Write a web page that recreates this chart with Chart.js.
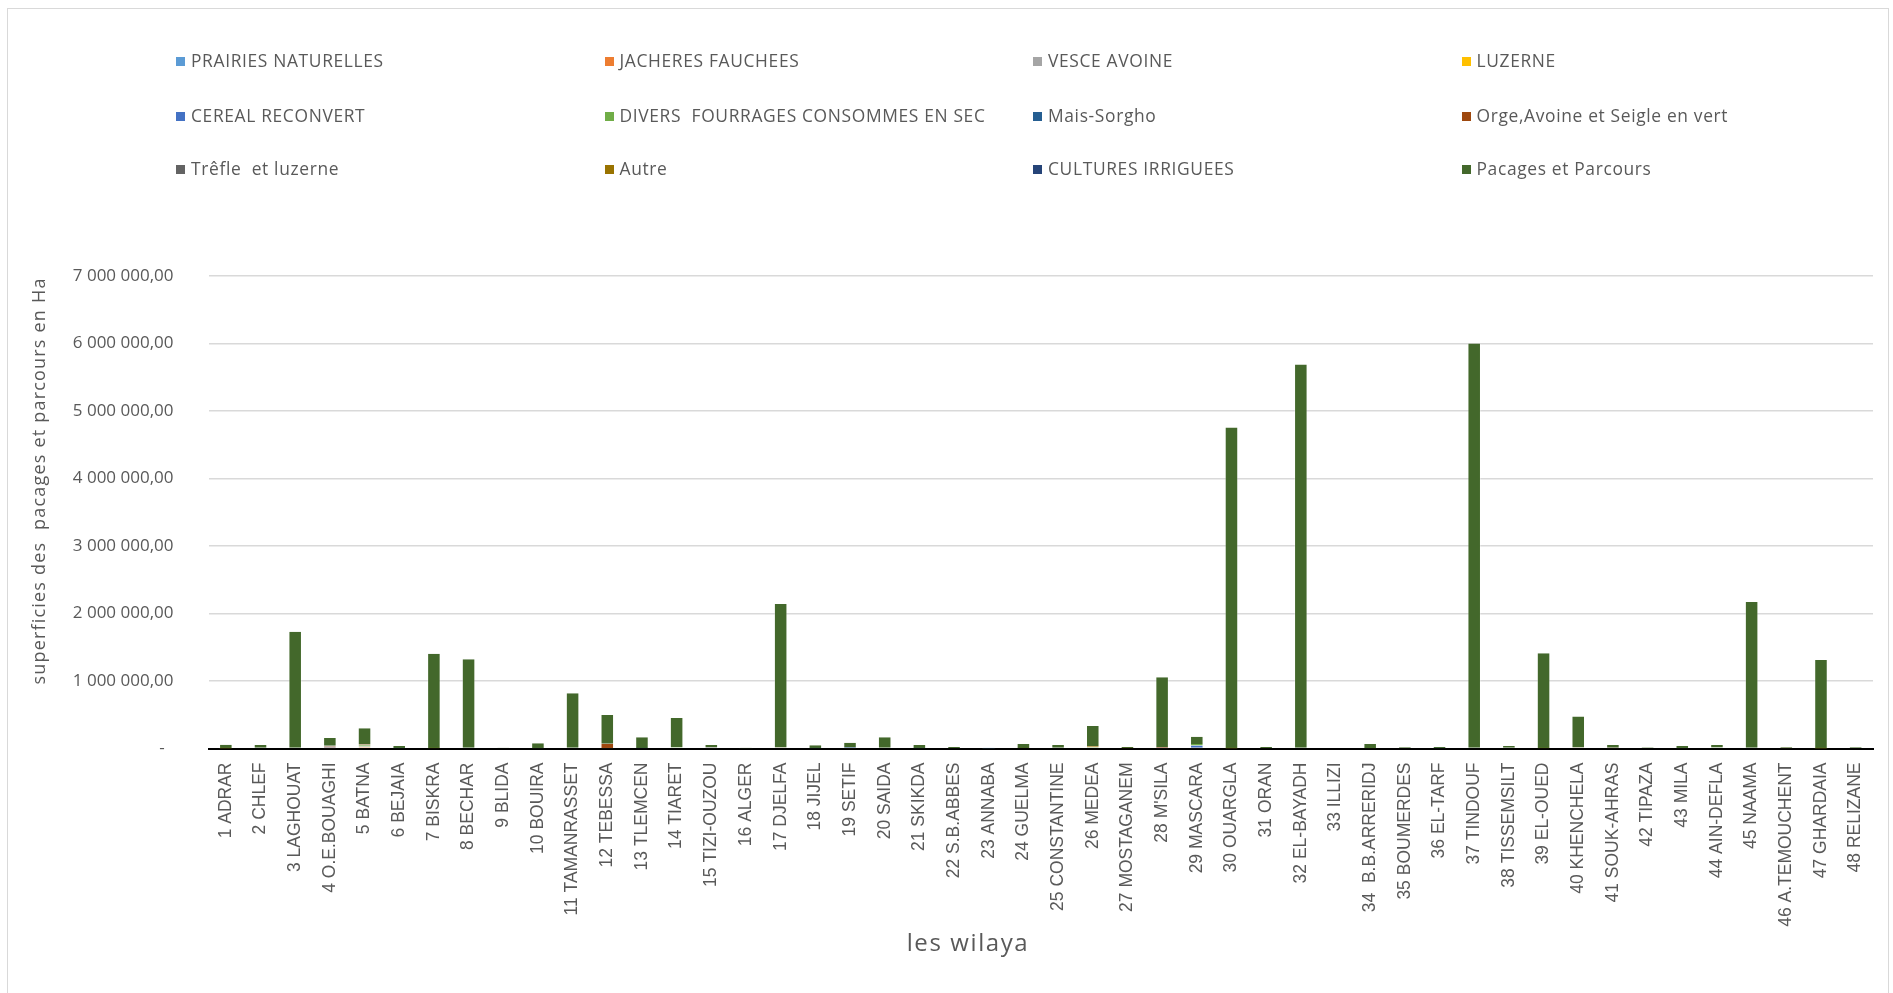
<!DOCTYPE html>
<html><head><meta charset="utf-8">
<script src="https://cdn.jsdelivr.net/npm/chart.js@4.4.1/dist/chart.umd.min.js"></script>
<style>
html,body{margin:0;padding:0;width:1893px;height:993px;overflow:hidden;background:#fff;}
#frame{position:absolute;left:7px;top:8px;width:1882px;height:990px;border:1px solid #d9d9d9;box-sizing:border-box;}
#wrap{position:absolute;left:0;top:0;width:1893px;height:993px;}
#legend{position:absolute;left:0;top:0;width:1893px;height:200px;font-family:'Open Sans';font-size:17.4px;color:#595959;letter-spacing:0.65px;}
.li{position:absolute;height:24px;line-height:24px;white-space:pre;}
.li .m{display:inline-block;width:9px;height:9px;margin-right:6px;vertical-align:middle;position:relative;top:-1px;}
</style></head><body>
<div id="frame"></div>
<div id="wrap"><canvas id="c"></canvas></div>
<div id="legend"></div>
<script>
const categories = ["1 ADRAR","2 CHLEF","3 LAGHOUAT","4 O.E.BOUAGHI","5 BATNA","6 BEJAIA","7 BISKRA","8 BECHAR","9 BLIDA","10 BOUIRA","11 TAMANRASSET","12 TEBESSA",
"13 TLEMCEN","14 TIARET","15 TIZI-OUZOU","16 ALGER","17 DJELFA","18 JIJEL","19 SETIF","20 SAIDA","21 SKIKDA","22 S.B.ABBES","23 ANNABA","24 GUELMA",
"25 CONSTANTINE","26 MEDEA","27 MOSTAGANEM","28 M'SILA","29 MASCARA","30 OUARGLA","31 ORAN","32 EL-BAYADH","33 ILLIZI","34  B.B.ARRERIDJ","35 BOUMERDES","36 EL-TARF",
"37 TINDOUF","38 TISSEMSILT","39 EL-OUED","40 KHENCHELA","41 SOUK-AHRAS","42 TIPAZA","43 MILA","44 AIN-DEFLA","45 NAAMA","46 A.TEMOUCHENT","47 GHARDAIA","48 RELIZANE"];

const seriesNames = ["PRAIRIES NATURELLES","JACHERES FAUCHEES","VESCE AVOINE","LUZERNE","CEREAL RECONVERT","DIVERS  FOURRAGES CONSOMMES EN SEC","Mais-Sorgho","Orge,Avoine et Seigle en vert","Trêfle  et luzerne","Autre","CULTURES IRRIGUEES","Pacages et Parcours"];
const seriesColors = ["#5B9BD5","#ED7D31","#A5A5A5","#FFC000","#4472C4","#70AD47","#255E91","#9E480E","#636363","#997300","#264478","#43682B"];

const prairiesNaturelles = [0,0,0,0,0,2000,0,0,0,0,0,0,
 0,0,3000,0,0,3000,0,0,2000,0,500,0,
 0,0,0,0,0,0,0,0,0,0,0,2000,
 0,0,0,0,0,0,0,0,0,0,0,0];
const jacheresFauchees = [0,0,0,3000,18000,0,0,0,0,0,0,0,
 0,0,0,0,0,0,2000,0,0,0,0,0,
 0,0,0,0,2000,0,0,0,0,0,0,0,
 0,0,0,0,0,0,0,0,0,0,0,0];
const vesceAvoine = [0,6000,0,6000,10000,0,0,0,0,2000,0,3000,
 0,0,0,0,0,0,0,0,0,0,0,0,
 0,12000,0,3000,8000,0,0,0,0,0,0,0,
 0,6000,0,0,2000,8000,3000,0,0,3000,0,0];
const luzerne = [1000,0,0,0,0,0,2000,0,0,0,0,0,
 0,0,0,0,0,0,0,0,0,0,0,0,
 0,0,0,0,0,1500,0,0,0,0,0,0,
 0,0,2000,0,0,0,0,0,0,0,1500,0];
const cerealReconvert = [0,0,0,4000,0,0,0,0,0,0,0,0,
 0,0,0,0,0,0,2000,0,0,0,0,0,
 0,0,0,8000,35000,0,0,0,0,0,0,0,
 0,0,0,0,0,0,0,0,0,0,0,0];
const diversFourrages = [0,6000,0,0,20000,0,0,0,0,4000,0,6000,
 0,20000,0,0,0,0,6000,0,0,0,0,0,
 0,5000,0,0,20000,0,0,0,0,3000,0,0,
 0,4000,0,0,0,4000,3000,15000,0,0,0,0];
const maisSorgho = [0,0,0,0,0,0,0,0,0,0,0,0,
 3000,0,0,0,0,0,12000,0,0,0,0,0,
 0,0,0,0,3000,0,0,0,0,0,0,0,
 0,0,0,0,0,0,0,0,0,0,0,0];
const orgeAvoineSeigle = [0,0,0,18000,12000,0,0,0,0,0,0,60000,
 0,0,8000,0,15000,0,0,0,0,0,0,8000,
 0,10000,5000,10000,0,0,0,0,0,3000,0,0,
 0,0,0,15000,8000,0,0,0,0,0,0,0];
const trefleLuzerne = [0,0,0,10000,0,0,0,0,0,0,0,0,
 5000,0,4000,0,0,0,0,0,0,3000,0,0,
 0,0,0,0,0,0,2000,0,0,0,0,0,
 0,0,0,0,0,0,0,0,0,0,0,0];
const autre = [0,0,0,0,0,0,0,0,0,0,0,0,
 0,0,0,0,0,0,0,0,0,0,0,0,
 0,10000,3000,0,0,0,0,0,0,0,0,0,
 0,0,0,0,0,0,0,0,0,8000,0,0];
const culturesIrriguees = [2000,0,0,0,0,0,0,0,0,0,0,0,
 0,0,0,0,0,0,0,0,0,0,0,0,
 0,0,0,2000,0,3000,0,0,0,0,0,0,
 0,0,0,0,0,0,0,0,0,0,0,0];
const pacagesParcours = [52000,40000,1730000,114000,239000,35000,1402000,1321000,2000,72000,817000,427000,
 158000,432000,37000,1000,2125000,44000,64000,166000,50000,19000,2500,58000,
 52000,296000,14000,1033000,107000,4750000,20000,5690000,0,60000,22000,20000,
 6000000,27000,1408000,459000,42000,8000,31000,37000,2170000,12000,1310000,22000];

const seriesValues = [prairiesNaturelles,jacheresFauchees,vesceAvoine,luzerne,cerealReconvert,diversFourrages,maisSorgho,orgeAvoineSeigle,trefleLuzerne,autre,culturesIrriguees,pacagesParcours];

const yAxisTitle = "superficies des  pacages et parcours en Ha";
const xAxisTitle = "les wilaya";
const yMax = 7000000, yStep = 1000000;

function fmt(v){
  if (v === 0) return "-  ";
  return String(v).replace(/\B(?=(\d{3})+(?!\d))/g, " ") + ",00";
}

// HTML legend (4 columns x 3 rows)
const legendEl = document.getElementById('legend');
const colX = [176, 604.5, 1033, 1461.5];
const rowY = [60, 114.7, 167.8];
seriesNames.forEach((n,i)=>{
  const d = document.createElement('div');
  d.className='li';
  d.style.left = colX[i%4] + 'px';
  d.style.top = (rowY[Math.floor(i/4)] - 12) + 'px';
  const m = document.createElement('span'); m.className='m'; m.style.background = seriesColors[i];
  d.appendChild(m);
  d.appendChild(document.createTextNode(n));
  legendEl.appendChild(d);
});

const titlePlugin = {
  id:'axisTitles',
  afterDraw(chart){
    const ctx = chart.ctx;
    ctx.save();
    ctx.fillStyle = '#595959';
    ctx.textAlign='center'; ctx.textBaseline='middle';
    ctx.font = '18px "Open Sans"';
    try { ctx.letterSpacing = '1.2px'; } catch(e){}
    ctx.translate(40, 481); ctx.rotate(-Math.PI/2);
    ctx.fillText(yAxisTitle, 0, 0);
    ctx.restore();
    ctx.save();
    ctx.fillStyle = '#595959';
    ctx.textAlign='center'; ctx.textBaseline='middle';
    ctx.font = '24px "Open Sans"';
    try { ctx.letterSpacing = '1.6px'; } catch(e){}
    ctx.fillText(xAxisTitle, 968, 944);
    ctx.restore();
  }
};

new Chart(document.getElementById('c'), {
  type:'bar',
  data:{
    labels: categories,
    datasets: seriesNames.map((n,i)=>({
      label:n, data:seriesValues[i], backgroundColor:seriesColors[i],
      borderColor:'rgba(255,255,255,0.3)', borderWidth:{top:0,left:1,right:1,bottom:0},
      borderSkipped:false,
      barPercentage:0.39, categoryPercentage:1.0
    }))
  },
  options:{
    responsive:true, maintainAspectRatio:false, animation:false,
    layout:{padding:{top:276,right:20,left:0,bottom:0}},
    plugins:{legend:{display:false}, tooltip:{enabled:false}},
    scales:{
      x:{
        stacked:true,
        grid:{display:false, drawTicks:false},
        border:{display:true, color:'#000', width:2},
        ticks:{autoSkip:false, maxRotation:90, minRotation:90, padding:14, color:'#595959',
          font:{family:'"Liberation Sans", Arial, sans-serif', size:17.5}},
        afterFit(s){ s.height = 244.5; }
      },
      y:{
        stacked:true, min:0, max:yMax,
        grid:{color:(c)=> c.tick && c.tick.value===0 ? 'rgba(0,0,0,0)' : '#d9d9d9', lineWidth:1.5, drawTicks:false},
        border:{display:false},
        ticks:{stepSize:yStep, padding:35, color:'#595959', callback:(v)=>fmt(v),
          font:{family:'"Open Sans"', size:17}},
        afterFit(s){ s.width = 208.5; }
      }
    }
  },
  plugins:[titlePlugin]
});
</script>
</body></html>
